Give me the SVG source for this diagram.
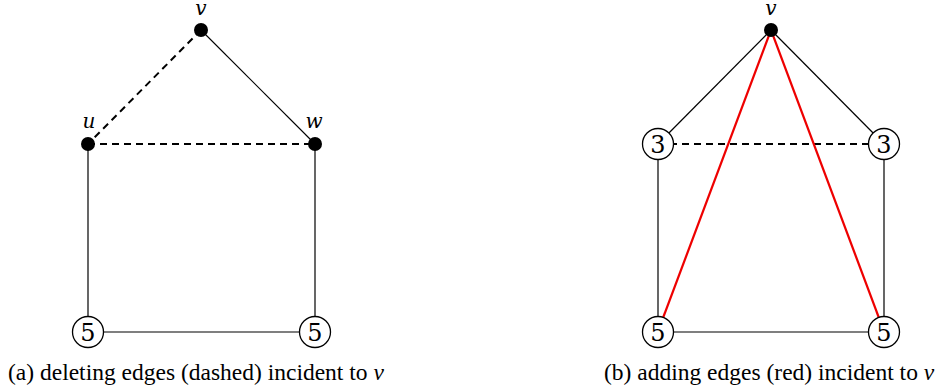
<svg xmlns="http://www.w3.org/2000/svg" width="940" height="392" viewBox="0 0 940 392">
  <style>
    .edge { stroke: #000; stroke-width: 1.2; fill: none; }
    .dash { stroke: #000; stroke-width: 2; stroke-dasharray: 7 5; fill: none; }
    .red { stroke: #e00; stroke-width: 2.2; fill: none; }
    .dot { fill: #000; }
    .ring { fill: #fff; stroke: #000; stroke-width: 1.3; }
    .num { font-family: "DejaVu Serif", "Liberation Serif", serif; font-size: 24px; text-anchor: middle; }
    .lbl { font-family: "DejaVu Serif", "Liberation Serif", serif; font-size: 20px; font-style: italic; text-anchor: middle; }
    .cap { font-family: "Liberation Serif", "DejaVu Serif", serif; font-size: 23.5px; }
    .it { font-style: italic; }
  </style>

  <!-- left graph: deleting edges -->
  <g id="edges-a">
    <line class="dash" x1="201" y1="30" x2="88" y2="144"/>
    <line class="edge" x1="201" y1="30" x2="315" y2="144"/>
    <line class="dash" x1="88" y1="144" x2="315" y2="144"/>
    <line class="edge" x1="88" y1="144" x2="88" y2="332"/>
    <line class="edge" x1="315" y1="144" x2="315" y2="332"/>
    <line class="edge" x1="88" y1="332" x2="315" y2="332"/>
  </g>
  <g id="a-v"><circle class="dot" cx="201" cy="30" r="7"/><text class="lbl" x="201" y="15">v</text></g>
  <g id="a-u"><circle class="dot" cx="88" cy="144" r="7"/><text class="lbl" x="89" y="128">u</text></g>
  <g id="a-w"><circle class="dot" cx="315" cy="144" r="7"/><text class="lbl" x="314" y="128">w</text></g>
  <g id="a-bl"><circle class="ring" cx="88" cy="332" r="15.5"/><text class="num" x="88" y="340.5">5</text></g>
  <g id="a-br"><circle class="ring" cx="315" cy="332" r="15.5"/><text class="num" x="315" y="340.5">5</text></g>
  <text class="cap" x="8" y="380">(a) deleting edges (dashed) incident to <tspan class="it">v</tspan></text>

  <!-- right graph: adding edges -->
  <g id="edges-b">
    <line class="edge" x1="771" y1="30" x2="658" y2="144"/>
    <line class="edge" x1="771" y1="30" x2="884" y2="144"/>
    <line class="dash" x1="658" y1="144" x2="884" y2="144"/>
    <line class="edge" x1="658" y1="144" x2="658" y2="332"/>
    <line class="edge" x1="884" y1="144" x2="884" y2="332"/>
    <line class="edge" x1="658" y1="332" x2="884" y2="332"/>
    <line class="red" x1="771" y1="30" x2="663" y2="318"/>
    <line class="red" x1="771" y1="30" x2="879" y2="318"/>
  </g>
  <g id="b-v"><circle class="dot" cx="771" cy="30" r="7"/><text class="lbl" x="771" y="15">v</text></g>
  <g id="b-l"><circle class="ring" cx="658" cy="144" r="15.5"/><text class="num" x="658" y="152.5">3</text></g>
  <g id="b-r"><circle class="ring" cx="884" cy="144" r="15.5"/><text class="num" x="884" y="152.5">3</text></g>
  <g id="b-bl"><circle class="ring" cx="658" cy="332" r="15.5"/><text class="num" x="658" y="340.5">5</text></g>
  <g id="b-br"><circle class="ring" cx="884" cy="332" r="15.5"/><text class="num" x="884" y="340.5">5</text></g>
  <text class="cap" x="604" y="380">(b) adding edges (red) incident to <tspan class="it">v</tspan></text>
</svg>
